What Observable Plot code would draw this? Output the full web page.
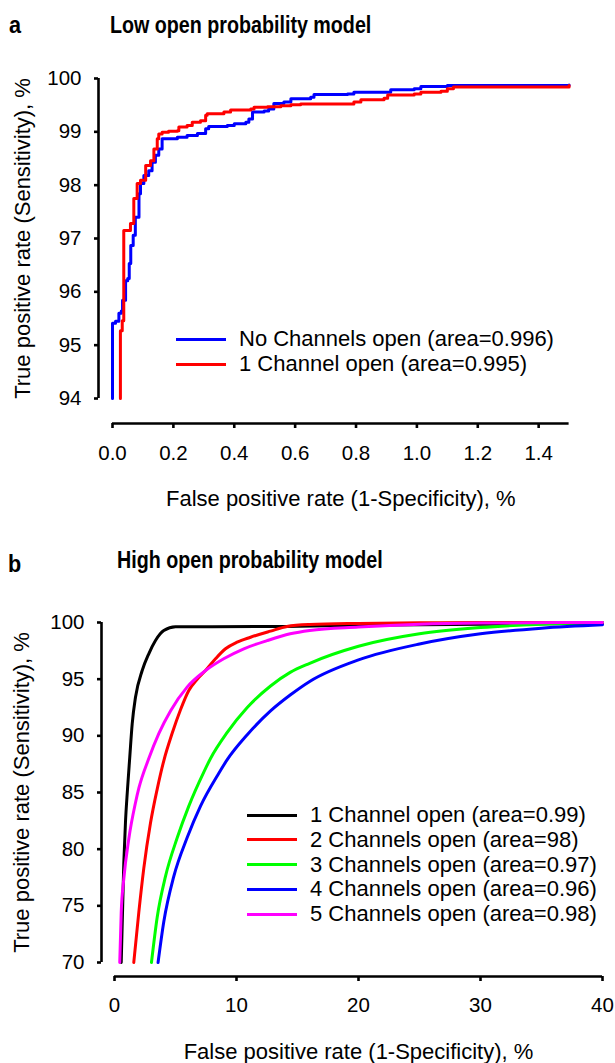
<!DOCTYPE html>
<html><head><meta charset="utf-8">
<script src="https://cdn.jsdelivr.net/npm/d3@7"></script>
<script src="https://cdn.jsdelivr.net/npm/@observablehq/plot@0.6"></script>
<style>
html,body{margin:0;padding:0;background:#fff;}
body{width:615px;height:1063px;position:relative;overflow:hidden;font-family:"Liberation Sans",Arial,sans-serif;}
.abs{position:absolute;}
.ttl{font-family:"Liberation Sans",Arial,sans-serif;font-weight:bold;font-size:24px;line-height:24px;white-space:nowrap;color:#000;transform:scaleX(0.82);transform-origin:0 0;}
.lbl{font-family:"Liberation Sans",Arial,sans-serif;font-weight:bold;font-size:24px;line-height:24px;white-space:nowrap;color:#000;transform:scaleX(0.9);transform-origin:0 0;}
.leg{position:absolute;font-size:22px;line-height:22px;white-space:nowrap;color:#000;}
.leg .sw{position:absolute;height:3px;}
.leg .tx{position:absolute;transform:translateY(-50%);}
</style></head>
<body>
<script>
// ---------- Panel a: Low open probability model (step ROC) ----------
const aNoX = [0,0,0.01,0.021,0.029,0.033,0.043,0.05,0.055,0.06,0.068,0.075,0.087,0.092,0.103,0.119,0.13,0.141,0.152,0.163,0.213,0.245,0.279,0.306,0.316,0.377,0.4,0.438,0.448,0.46,0.498,0.513,0.53,0.563,0.586,0.651,0.662,0.772,0.793,0.914,0.991,1.013,1.1,1.5];
const aNoY = [94,95.41,95.45,95.6,95.64,95.84,96.21,96.25,96.53,96.87,97.06,97.4,97.84,98.03,98.18,98.27,98.43,98.56,98.68,98.87,98.9,98.93,98.97,99.06,99.1,99.12,99.15,99.18,99.24,99.37,99.39,99.43,99.53,99.56,99.62,99.65,99.7,99.71,99.74,99.79,99.81,99.85,99.87,99.88];
const aOneX = [0.026,0.026,0.032,0.037,0.059,0.07,0.081,0.092,0.109,0.125,0.136,0.147,0.152,0.163,0.184,0.213,0.218,0.245,0.262,0.289,0.306,0.311,0.366,0.388,0.454,0.465,0.509,0.553,0.586,0.618,0.793,0.816,0.892,0.904,0.991,1.013,1.079,1.1,1.12,1.5];
const aOneY = [94,95.27,95.46,97.15,97.28,97.75,98.03,98.09,98.37,98.46,98.68,98.87,98.96,98.99,99.01,99.02,99.09,99.12,99.18,99.21,99.31,99.34,99.37,99.41,99.43,99.46,99.47,99.49,99.51,99.52,99.56,99.6,99.63,99.69,99.71,99.74,99.76,99.81,99.84,99.87];
const aSeries = ["No Channels open (area=0.996)", "1 Channel open (area=0.995)"];
const aColors = ["#0000ff", "#ff0000"];
const aXTicks = [0,0.2,0.4,0.6,0.8,1.0,1.2,1.4];
const aYTicks = [94,95,96,97,98,99,100];

// ---------- Panel b: High open probability model ----------
const b1X = [0.55,0.76,0.9,1.06,1.25,1.45,1.72,2.27,2.81,3.36,4.04,5.0,8,14,20,30,40];
const b1Y = [70,78.7,82.4,85.2,88.1,91.06,93.4,95.76,97.24,98.41,99.29,99.62,99.62,99.65,99.75,99.85,99.9];
const b2X = [1.58,1.99,2.4,2.95,3.5,4.04,4.72,5.41,6.09,6.78,7.46,8.28,9.1,10.05,11.15,12.79,14.15,16,20,25,30,40];
const b2Y = [70,74.4,78.3,82.3,85.3,87.8,90.2,92.3,94.0,95.0,95.76,96.8,97.68,98.26,98.7,99.24,99.65,99.82,99.92,99.97,100,100];
const b3X = [3.03,3.5,4.18,5.14,6.09,7.32,7.87,9.24,10.88,12.79,14.4,16,20,25,30,35,40];
const b3Y = [70,74.0,77.6,81.0,83.8,86.8,88.0,90.3,92.5,94.4,95.6,96.4,97.9,99.0,99.55,99.85,100];
const b4X = [3.57,4.04,4.86,5.95,7.05,8.55,9.24,10.88,12.79,14.4,16,20,25,30,35,40];
const b4Y = [70,73.6,77.6,81.0,83.8,86.7,87.9,90.1,92.2,93.6,94.8,96.7,98.1,99.0,99.5,99.8];
const b5X = [0.43,0.55,0.76,1.17,1.72,2.0,2.81,3.63,4.59,5.95,7.46,8.95,10.6,12.5,14.4,16,20,25,30,40];
const b5Y = [70,74.4,77.35,80.9,84.1,85.4,88.0,90.2,92.2,94.3,95.76,96.8,97.68,98.4,99.0,99.3,99.6,99.85,99.95,100];
const bSeries = ["1 Channel open (area=0.99)","2 Channels open (area=98)","3 Channels open (area=0.97)","4 Channels open (area=0.96)","5 Channels open (area=0.98)"];
const bColors = ["#000000","#ff0000","#00ff00","#0000ff","#ff00ff"];
const bXTicks = [0,10,20,30,40];
const bYTicks = [70,75,80,85,90,95,100];

const yLabel = "True positive rate (Sensitivity), %";
const xLabel = "False positive rate (1-Specificity), %";

function rows(xs, ys, s) { return xs.map((x, i) => ({x, y: ys[i], s})); }
const aData = [...rows(aNoX, aNoY, aSeries[0]), ...rows(aOneX, aOneY, aSeries[1])];
const bYs = [b1Y,b2Y,b3Y,b4Y,b5Y];
const bData = [b1X,b2X,b3X,b4X,b5X].flatMap((xs,i)=>rows(xs,bYs[i],bSeries[i]));

const FONT = '"Liberation Sans", Arial, sans-serif';

function place(el, top) { el.style.position = "absolute"; el.style.left = "0px"; el.style.top = top + "px"; document.body.appendChild(el); }

// Panel a
const plotA = Plot.plot({
  width: 615, height: 530,
  marginLeft: 112, marginRight: 46.4, marginTop: 78, marginBottom: 132,
  style: {fontFamily: FONT, fontSize: "20.5px", color: "#000", background: "transparent", overflow: "visible"},
  x: {domain: [0, 1.5]},
  y: {domain: [94, 100]},
  color: {domain: aSeries, range: aColors},
  marks: [
    Plot.ruleX([0], {dx: -14, stroke: "#000", strokeWidth: 2.6}),
    Plot.ruleY([94], {dy: 25, stroke: "#000", strokeWidth: 2.6}),
    Plot.axisY({ticks: aYTicks, tickFormat: d => d, tickSize: 4, tickPadding: 13, dx: -14, strokeWidth: 2.6, label: null, fontSize: 20.5}),
    Plot.axisX({ticks: aXTicks, tickFormat: d3.format(".1f"), tickSize: 5, tickPadding: 17, dy: 25, strokeWidth: 2.6, label: null, fontSize: 20.5}),
    Plot.line(aData, {x: "x", y: "y", z: "s", stroke: "s", strokeWidth: 3, curve: "step-after"}),
    Plot.text([yLabel], {frameAnchor: "left", textAnchor: "middle", lineAnchor: "middle", rotate: -90, dx: -90, fontSize: 22, text: d => d}),
    Plot.text([xLabel], {frameAnchor: "bottom", textAnchor: "middle", lineAnchor: "middle", dy: 100, fontSize: 22, text: d => d})
  ]
});
place(plotA, 0);

// Panel b
const plotB = Plot.plot({
  width: 615, height: 533,
  marginLeft: 114, marginRight: 13, marginTop: 92, marginBottom: 101,
  style: {fontFamily: FONT, fontSize: "20.5px", color: "#000", background: "transparent", overflow: "visible"},
  x: {domain: [0, 40]},
  y: {domain: [70, 100]},
  color: {domain: bSeries, range: bColors},
  marks: [
    Plot.ruleX([0], {dx: -13, stroke: "#000", strokeWidth: 2.6}),
    Plot.ruleY([70], {dy: 14, stroke: "#000", strokeWidth: 2.6}),
    Plot.axisY({ticks: bYTicks, tickFormat: d => d, tickSize: 4, tickPadding: 13, dx: -13, strokeWidth: 2.6, label: null, fontSize: 20.5}),
    Plot.axisX({ticks: bXTicks, tickFormat: d => d, tickSize: 5, tickPadding: 16, dy: 14, strokeWidth: 2.6, label: null, fontSize: 20.5}),
    Plot.line(bData, {x: "x", y: "y", z: "s", stroke: "s", strokeWidth: 3, curve: "monotone-x"}),
    Plot.text([yLabel], {frameAnchor: "left", textAnchor: "middle", lineAnchor: "middle", rotate: -90, dx: -93, fontSize: 22, text: d => d}),
    Plot.text([xLabel], {frameAnchor: "bottom", textAnchor: "middle", lineAnchor: "middle", dy: 89, fontSize: 22, text: d => d})
  ]
});
place(plotB, 530);

// Titles
function addText(txt, cls, left, top) {
  const d = document.createElement("div");
  d.className = "abs " + cls; d.textContent = txt;
  d.style.left = left + "px"; d.style.top = top + "px";
  document.body.appendChild(d);
}
addText("a", "lbl", 9, 13);
addText("Low open probability model", "ttl", 110, 13);
addText("b", "lbl", 8, 552);
addText("High open probability model", "ttl", 117, 548);

// Legends
function legend(names, colors, left, top, gap, swW, txtX) {
  names.forEach((n, i) => {
    const g = document.createElement("div");
    g.className = "leg";
    g.style.left = left + "px"; g.style.top = (top + i * gap) + "px";
    const sw = document.createElement("div");
    sw.className = "sw"; sw.style.left = "0px"; sw.style.top = "-1.5px"; sw.style.width = swW + "px"; sw.style.background = colors[i];
    const tx = document.createElement("div");
    tx.className = "tx"; tx.style.left = txtX + "px"; tx.style.top = "0px"; tx.textContent = n;
    g.appendChild(sw); g.appendChild(tx);
    document.body.appendChild(g);
  });
}
legend(aSeries, aColors, 176, 339, 25, 50, 63);
legend(bSeries, bColors, 247, 815, 24.75, 50, 63);
</script>
</body></html>
